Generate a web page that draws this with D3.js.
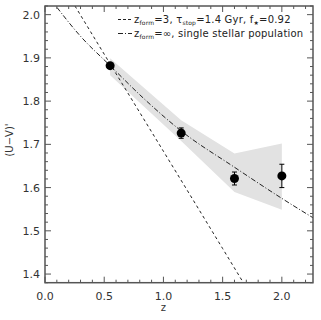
<!DOCTYPE html>
<html>
<head>
<meta charset="utf-8">
<script src="https://cdn.jsdelivr.net/npm/d3@7"></script>
<style>
body { margin: 0; background: #fff; }
svg { font-family: "DejaVu Sans", sans-serif; }
</style>
</head>
<body>
<svg width="321" height="320"></svg>
<script>
// observed points
var obs_z = [0.55, 1.15, 1.60, 2.00]
var obs_col = [1.882, 1.726, 1.621, 1.627]
var obs_err = [0.005, 0.012, 0.015, 0.027]

// shaded band (upper edge then lower edge)
var band_z = [0.55, 1.15, 1.60, 2.00]
var band_hi = [1.899, 1.756, 1.679, 1.702]
var band_lo = [1.860, 1.708, 1.590, 1.549]

// model curves
var ssp_z = [0.05, 0.30, 0.55, 0.85, 1.15, 1.60, 2.00, 2.30]
var ssp_col = [2.035, 1.950, 1.882, 1.802, 1.731, 1.647, 1.575, 1.524]
var tau_z = [0.20, 0.55, 1.00, 1.50, 1.75]
var tau_col = [2.044, 1.886, 1.684, 1.459, 1.346]

var x_ticks = [0.0, 0.5, 1.0, 1.5, 2.0]
var y_ticks = [1.4, 1.5, 1.6, 1.7, 1.8, 1.9, 2.0]

function setup_svg() {
    var svg = d3.select("svg"), margin = { top: 6, right: 8, bottom: 37.3, left: 45 },
        width = svg.attr("width") - margin.left - margin.right,
        height = svg.attr("height") - margin.top - margin.bottom,
        g = svg.append("g").attr("transform", "translate(" + margin.left + "," + margin.top + ")");
    return { width, height, g, svg, margin };
}

var { width, height, g, svg, margin } = setup_svg();

var x = d3.scaleLinear().domain([0, 2.263]).range([0, width]);
var y = d3.scaleLinear().domain([1.38, 2.02]).range([height, 0]);

g.append("clipPath").attr("id", "clip")
    .append("rect").attr("width", width).attr("height", height);

var plot = g.append("g").attr("clip-path", "url(#clip)");

// band
var band_pts = band_z.map(function (z, i) { return [x(z), y(band_hi[i])] })
    .concat(band_z.slice().reverse().map(function (z, i) {
        return [x(z), y(band_lo[band_z.length - 1 - i])]
    }));
plot.append("path")
    .attr("d", "M" + band_pts.join("L") + "Z")
    .attr("fill", "#e2e2e2");

var line = d3.line().curve(d3.curveMonotoneX);

plot.append("path")
    .attr("d", line(tau_z.map(function (z, i) { return [x(z), y(tau_col[i])] })))
    .attr("fill", "none").attr("stroke", "#222").attr("stroke-width", 1)
    .attr("stroke-dasharray", "3,3");

plot.append("path")
    .attr("d", line(ssp_z.map(function (z, i) { return [x(z), y(ssp_col[i])] })))
    .attr("fill", "none").attr("stroke", "#222").attr("stroke-width", 1)
    .attr("stroke-dasharray", "5,2,1,2");

// error bars + points
obs_z.forEach(function (z, i) {
    var cx = x(z), top = y(obs_col[i] + obs_err[i]), bot = y(obs_col[i] - obs_err[i]);
    g.append("path")
        .attr("d", "M" + cx + "," + top + "V" + bot +
            "M" + (cx - 2.5) + "," + top + "H" + (cx + 2.5) +
            "M" + (cx - 2.5) + "," + bot + "H" + (cx + 2.5))
        .attr("stroke", "#000").attr("stroke-width", 1).attr("fill", "none");
    g.append("circle").attr("cx", cx).attr("cy", y(obs_col[i])).attr("r", 4.5).attr("fill", "#000");
});

// frame with inward ticks on all sides
var ax_col = "#555";
var x_minor = d3.range(0, 2.26, 0.1);
var y_minor = d3.range(1.38, 2.021, 0.02);

function tick_len(v, majors) {
    return majors.some(function (m) { return Math.abs(m - v) < 1e-6 }) ? 6 : 3;
}
x_minor.forEach(function (v) {
    var l = tick_len(Math.round(v * 10) / 10, x_ticks);
    g.append("line").attr("x1", x(v)).attr("x2", x(v)).attr("y1", height).attr("y2", height - l)
        .attr("stroke", ax_col).attr("stroke-width", 1);
    g.append("line").attr("x1", x(v)).attr("x2", x(v)).attr("y1", 0).attr("y2", l)
        .attr("stroke", ax_col).attr("stroke-width", 1);
});
y_minor.forEach(function (v) {
    var l = tick_len(Math.round(v * 100) / 100, y_ticks);
    g.append("line").attr("y1", y(v)).attr("y2", y(v)).attr("x1", 0).attr("x2", l)
        .attr("stroke", ax_col).attr("stroke-width", 1);
    g.append("line").attr("y1", y(v)).attr("y2", y(v)).attr("x1", width).attr("x2", width - l)
        .attr("stroke", ax_col).attr("stroke-width", 1);
});
g.append("rect").attr("width", width).attr("height", height)
    .attr("fill", "none").attr("stroke", ax_col).attr("stroke-width", 1.5);

// tick labels
g.selectAll(".xl").data(x_ticks).enter().append("text")
    .attr("x", function (d) { return x(d) }).attr("y", height + 17)
    .attr("text-anchor", "middle").attr("font-size", 11).attr("fill", "#333")
    .text(function (d) { return d.toFixed(1) });
g.selectAll(".yl").data(y_ticks).enter().append("text")
    .attr("x", -5).attr("y", function (d) { return y(d) + 4 })
    .attr("text-anchor", "end").attr("font-size", 11).attr("fill", "#333")
    .text(function (d) { return d.toFixed(1) });

// axis titles
svg.append("text").attr("x", margin.left + x(1.0)).attr("y", 311)
    .attr("text-anchor", "middle").attr("font-size", 10).attr("fill", "#333").text("z");
svg.append("text").attr("transform", "translate(13,140) rotate(-90)")
    .attr("text-anchor", "middle").attr("font-size", 10).attr("fill", "#333")
    .text("(U\u2212V)'");

// legend
function legend_row(yy, dash, parts) {
    svg.append("line").attr("x1", 118).attr("x2", 132).attr("y1", yy - 3.5).attr("y2", yy - 3.5)
        .attr("stroke", "#222").attr("stroke-dasharray", dash);
    var t = svg.append("text").attr("x", 134).attr("y", yy).attr("font-size", 10)
        .attr("letter-spacing", 0.2).attr("fill", "#222");
    parts.forEach(function (p) {
        var s = t.append("tspan").text(p[0]);
        if (p[1] == "sub") s.attr("font-size", 6).attr("dy", 2);
        if (p[1] == "back") s.attr("dy", -2);
    });
}
legend_row(23, "3,2", [["z"], ["form", "sub"], ["=3, \u03c4", "back"], ["stop", "sub"],
    ["=1.4 Gyr, f", "back"], ["\u2605", "sub"], ["=0.92", "back"]]);
legend_row(37, "5,2,1,2", [["z"], ["form", "sub"], ["=\u221e, single stellar population", "back"]]);
</script>
</body>
</html>
